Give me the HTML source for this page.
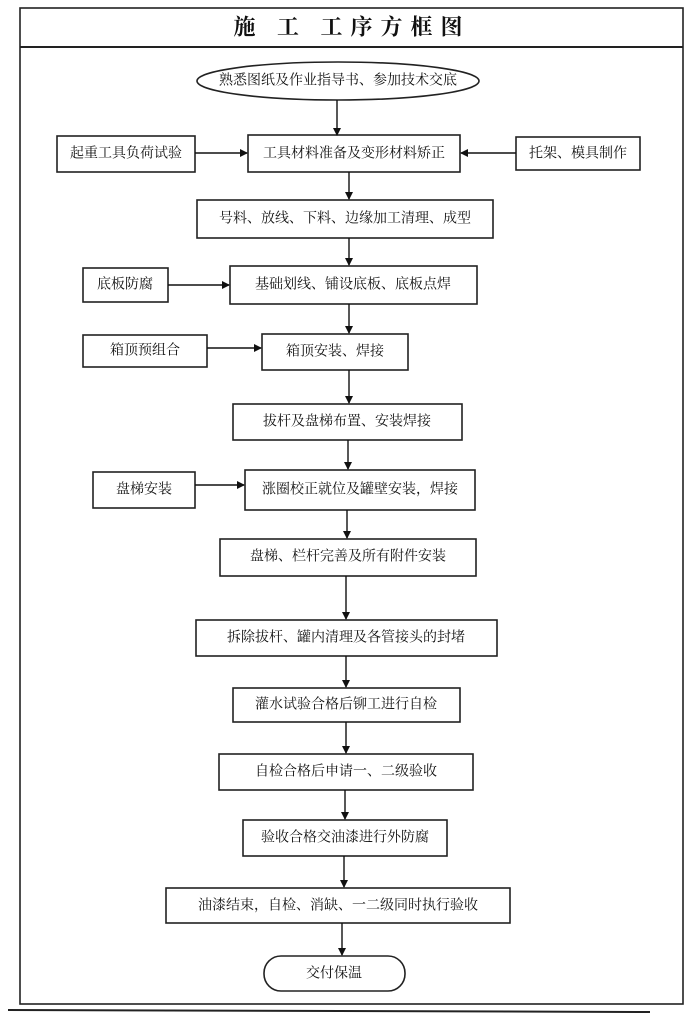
<!DOCTYPE html>
<html><head><meta charset="utf-8"><style>
html,body{margin:0;padding:0;background:#fff;}
svg{display:block;}
text{font-family:"Liberation Serif","Noto Serif CJK SC","Noto Sans CJK SC",serif;font-size:14px;fill:#111;text-anchor:middle;dominant-baseline:central;}
</style></head><body>
<svg width="700" height="1018" viewBox="0 0 700 1018" xmlns="http://www.w3.org/2000/svg">
<defs><marker id="a" markerWidth="8" markerHeight="8" refX="7" refY="4" orient="auto" markerUnits="userSpaceOnUse"><path d="M0,0 L8,4 L0,8 z" fill="#111"/></marker></defs>
<g fill="none" stroke="#222" stroke-width="1.6">
<rect x="20" y="8" width="663" height="996"/>
<line x1="20" y1="47" x2="683" y2="47" stroke-width="2"/>
<line x1="8" y1="1010" x2="650" y2="1012" stroke-width="2"/>
<ellipse cx="338" cy="81" rx="141" ry="19"/>
<rect x="57" y="136" width="138" height="36"/>
<rect x="248" y="135" width="212" height="37"/>
<rect x="516" y="137" width="124" height="33"/>
<rect x="197" y="200" width="296" height="38"/>
<rect x="83" y="268" width="85" height="34"/>
<rect x="230" y="266" width="247" height="38"/>
<rect x="83" y="335" width="124" height="32"/>
<rect x="262" y="334" width="146" height="36"/>
<rect x="233" y="404" width="229" height="36"/>
<rect x="93" y="472" width="102" height="36"/>
<rect x="245" y="470" width="230" height="40"/>
<rect x="220" y="539" width="256" height="37"/>
<rect x="196" y="620" width="301" height="36"/>
<rect x="233" y="688" width="227" height="34"/>
<rect x="219" y="754" width="254" height="36"/>
<rect x="243" y="820" width="204" height="36"/>
<rect x="166" y="888" width="344" height="35"/>
<rect x="264" y="956" width="141" height="35" rx="17"/>
</g>
<g stroke="#111" stroke-width="1.4" marker-end="url(#a)">
<line x1="337" y1="100" x2="337" y2="135"/>
<line x1="195" y1="153" x2="247" y2="153"/>
<line x1="516" y1="153" x2="461" y2="153"/>
<line x1="349" y1="172" x2="349" y2="199"/>
<line x1="349" y1="238" x2="349" y2="265"/>
<line x1="168" y1="285" x2="229" y2="285"/>
<line x1="349" y1="304" x2="349" y2="333"/>
<line x1="207" y1="348" x2="261" y2="348"/>
<line x1="349" y1="370" x2="349" y2="403"/>
<line x1="348" y1="440" x2="348" y2="469"/>
<line x1="195" y1="485" x2="244" y2="485"/>
<line x1="347" y1="510" x2="347" y2="538"/>
<line x1="346" y1="576" x2="346" y2="619"/>
<line x1="346" y1="656" x2="346" y2="687"/>
<line x1="346" y1="722" x2="346" y2="753"/>
<line x1="345" y1="790" x2="345" y2="819"/>
<line x1="344" y1="856" x2="344" y2="887"/>
<line x1="342" y1="923" x2="342" y2="955"/>
</g>
<text x="352" y="27" style="font-size:22px;font-weight:bold;letter-spacing:8px">施 工 工序方框图</text>
<text x="338" y="81">熟悉图纸及作业指导书、参加技术交底</text>
<text x="126" y="154">起重工具负荷试验</text>
<text x="354" y="154">工具材料准备及变形材料矫正</text>
<text x="578" y="154">托架、模具制作</text>
<text x="345" y="219">号料、放线、下料、边缘加工清理、成型</text>
<text x="125" y="285">底板防腐</text>
<text x="353" y="285">基础划线、铺设底板、底板点焊</text>
<text x="145" y="351">箱顶预组合</text>
<text x="335" y="352">箱顶安装、焊接</text>
<text x="347" y="422">拔杆及盘梯布置、安装焊接</text>
<text x="144" y="490">盘梯安装</text>
<text x="360" y="490">涨圈校正就位及罐壁安装，焊接</text>
<text x="348" y="557">盘梯、栏杆完善及所有附件安装</text>
<text x="346" y="638">拆除拔杆、罐内清理及各管接头的封堵</text>
<text x="346" y="705">灌水试验合格后铆工进行自检</text>
<text x="346" y="772">自检合格后申请一、二级验收</text>
<text x="345" y="838">验收合格交油漆进行外防腐</text>
<text x="338" y="906">油漆结束，自检、消缺、一二级同时执行验收</text>
<text x="334" y="974">交付保温</text>
</svg>
</body></html>
